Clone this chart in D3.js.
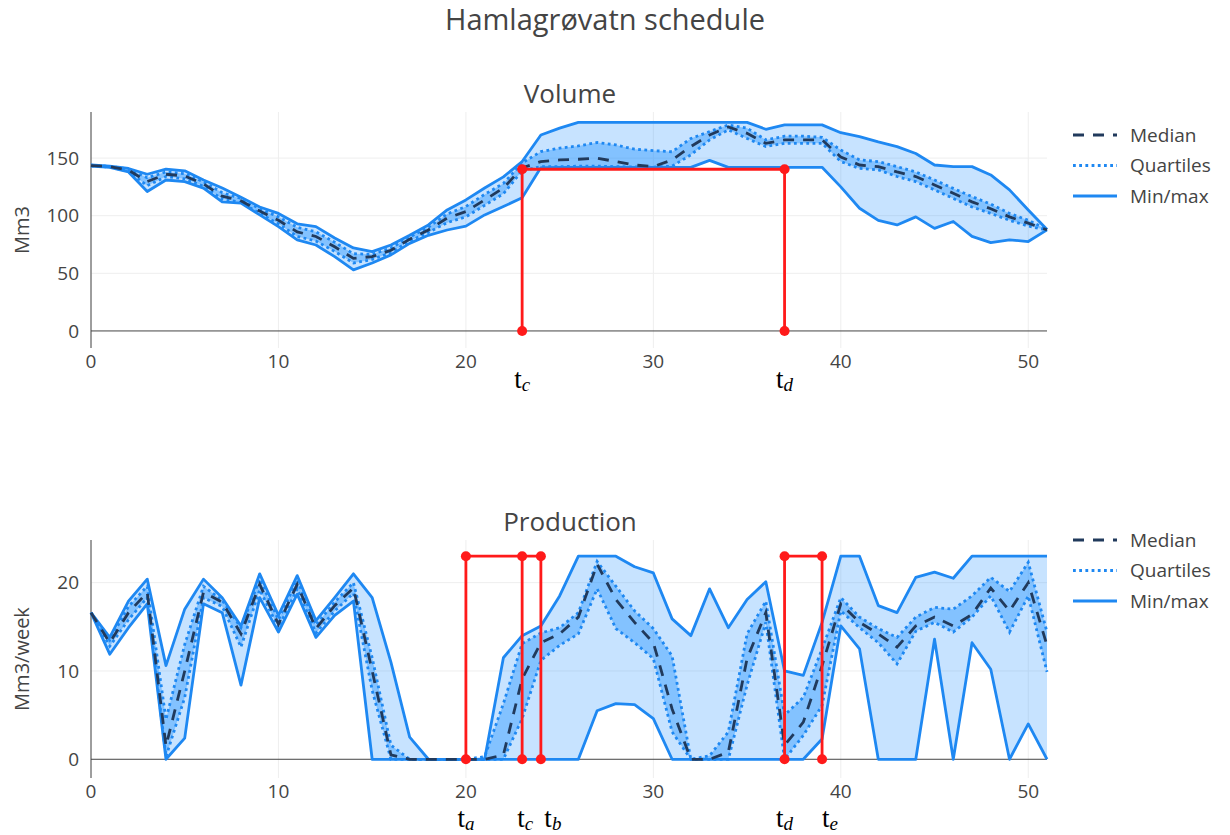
<!DOCTYPE html>
<html>
<head>
<meta charset="utf-8">
<script src="https://cdn.jsdelivr.net/npm/d3@7"></script>
<style>
  html, body { margin: 0; padding: 0; background: #fff; }
  svg { display: block; }
</style>
</head>
<body>
<div id="chart"></div>
<script>
// ---- data ----
const weeks = d3.range(0, 52);

const volMin = [143, 142, 138, 121, 131, 129.6, 124, 112, 111, 100.7, 90.5, 79, 74.6, 64.5, 53, 59, 66, 76, 83, 87.6,
  91, 100.7, 108, 115.5, 141.8, 142, 142, 142, 142, 142, 142, 142, 142, 148, 142, 142, 142, 142, 142, 142,
  125, 106.5, 96, 92, 99, 89, 95, 82, 76.6, 79, 77.6, 87.7];
const volQ1 = [143.2, 142.3, 138.5, 126, 134, 132, 125.5, 114.5, 111.5, 102, 93, 82, 78, 69, 59, 62, 68, 78, 85.5, 94,
  99, 109, 119, 139, 142.6, 142.6, 143, 143, 142.6, 142.3, 142.2, 143, 152.8, 165.8, 174.5, 167, 160, 162.8, 162.8, 162.8,
  147, 141, 139.8, 134, 129.6, 122.4, 115, 107.6, 102, 96, 91, 87.5];
const volMedian = [143.5, 142.6, 139.5, 129.6, 136, 134.5, 127.6, 117, 113, 104, 96, 86, 82, 73, 63, 64.5, 70, 79.6, 87.6, 98,
  103.6, 113.7, 124, 141.5, 147, 148.4, 149, 150, 147, 144, 142.6, 148.4, 160, 170, 177, 171.5, 162.8, 165.8, 165.8, 165.8,
  151, 144, 142.6, 138, 134, 126.7, 119.5, 112, 106, 99, 93.5, 87.7];
const volQ3 = [143.8, 142.8, 140.5, 133, 138, 136.5, 129.5, 120, 115, 106, 99, 90, 86, 77, 67, 66.5, 72, 81.5, 90, 101.5,
  108, 118.5, 128, 145.8, 155.6, 158.6, 160.6, 163.5, 161.4, 157.7, 156.5, 155.5, 167, 173, 178.8, 176, 165.8, 169, 169, 168,
  157, 148.4, 147, 142.6, 138, 131, 123.7, 116.6, 110, 102, 96, 88];
const volMax = [144, 143, 141, 136, 140.5, 139, 131, 124, 116, 107.6, 102, 93, 90.5, 80.7, 72, 68.8, 74.6, 83, 92, 105,
  113.7, 124, 133.7, 147, 170, 176, 181, 181, 181, 181, 181, 181, 181, 181, 181, 181, 175, 178.8, 178.8, 178.8,
  172, 168.7, 164, 160, 154, 144, 142.6, 142.6, 135.4, 122.4, 105, 88];

const prodMin = [16.6, 11.9, 14.9, 17.6, 0, 2.4, 17.6, 16.6, 8.4, 18.3, 14.4, 18.7, 13.8, 16.3, 17.9, 0, 0, 0, 0, 0,
  0, 0, 0, 0, 0, 0, 0, 5.5, 6.3, 6.2, 4.6, 0, 0, 0, 0, 0, 0, 0, 0, 2.3,
  15.1, 12.5, 0, 0, 0, 13.6, 0, 13.2, 10.2, 0, 4.0, 0];
const prodQ1 = [16.6, 12.8, 15.8, 18.3, 0.3, 7, 18.3, 17.3, 12.7, 19.2, 14.9, 19.3, 14.3, 16.8, 18.8, 7.8, 0, 0, 0, 0,
  0, 0, 0, 4.6, 11.2, 12.9, 14.2, 19.3, 14.8, 13.2, 11.4, 3.1, 0, 0, 0, 8.4, 15.5, 0, 2.7, 6.1,
  16.8, 14.9, 13.2, 10.8, 14.5, 15.5, 14.4, 16.1, 18.5, 14.4, 18.5, 9.9];
const prodMedian = [16.6, 13.2, 16.6, 18.9, 1.5, 10, 18.9, 17.8, 14.2, 19.8, 15.3, 19.8, 14.8, 17.4, 19.4, 10.0, 0.5, 0, 0, 0,
  0, 0, 0.5, 9.1, 13.2, 14.2, 16.1, 22.1, 18.1, 15.5, 13.2, 5.7, 0, 0, 0.8, 11.4, 16.6, 1.6, 4.2, 10.6,
  17.6, 15.5, 14.2, 12.7, 15.1, 16.1, 15.1, 16.4, 19.4, 16.8, 20.0, 12.9];
const prodQ3 = [16.6, 13.5, 17.3, 19.6, 4.5, 13, 19.6, 18.0, 14.9, 20.4, 15.8, 20.3, 15.2, 17.8, 20.0, 11.5, 1.6, 0, 0, 0,
  0, 0.3, 6.3, 13.1, 14.3, 14.9, 16.6, 22.4, 19.6, 16.8, 14.8, 11.7, 0, 0.4, 3.1, 14.2, 17.9, 5.0, 7.0, 12.5,
  18.3, 16.1, 14.8, 13.8, 16.1, 17.2, 17.0, 18.5, 20.6, 19.0, 22.3, 14.4];
const prodMax = [16.6, 13.8, 17.9, 20.4, 10.6, 17.0, 20.4, 18.3, 15.1, 21.0, 16.3, 20.8, 15.7, 18.3, 21.0, 18.3, 11.0, 2.5, 0, 0,
  0, 0, 11.5, 14.0, 15.1, 18.5, 23, 23, 23, 21.8, 21.1, 15.9, 14.0, 19.3, 14.9, 18.1, 20.1, 10.0, 9.5, 15.5,
  23, 23, 17.4, 16.6, 20.6, 21.2, 20.5, 23, 23, 23, 23, 23];

// red schedule markers: [weeks, values]
const volMarkWeeks = [23, 23, 37, 37];
const volMarkValues = [0, 140.3, 140.3, 0];
const prodMarkWeeks = [[20, 20, 24, 24], [23, 23], [37, 37, 39, 39]];
const prodMarkValues = [[0, 23, 23, 0], [0, 23], [0, 23, 23, 0]];

const volTimeLabels = ['c', 'd'];
const volTimeWeeks = [23, 37];
const prodTimeLabels = ['a', 'c', 'b', 'd', 'e'];
const prodTimeWeeks = [20, 23, 24, 37, 39];

const xTicks = [0, 10, 20, 30, 40, 50];
const volTicks = [0, 50, 100, 150];
const prodTicks = [0, 10, 20];
const legendNames = ['Median', 'Quartiles', 'Min/max'];

// ---- style ----
const FONT = '"Open Sans", verdana, arial, sans-serif';
const TEXT = '#444';
const BLUE = '#1e88f2';
const DARK = '#213a5c';
const FILL_LIGHT = 'rgba(30,144,255,0.25)';
const FILL_DARK = 'rgba(30,144,255,0.40)';
const RED = '#ff1a1a';

const W = 1230, H = 835;
const svg = d3.select('#chart').append('svg').attr('width', W).attr('height', H)
  .style('font-family', FONT);
svg.append('rect').attr('width', W).attr('height', H).attr('fill', '#fff');

svg.append('text').attr('x', 605).attr('y', 30).attr('text-anchor', 'middle')
  .attr('font-size', 29).attr('fill', TEXT).text('Hamlagrøvatn schedule');

function panel(cfg) {
  const x = d3.scaleLinear().domain([0, 51]).range([91, 1047]);
  const y = d3.scaleLinear().domain(cfg.yDomain).range([cfg.bottom, cfg.top]);
  const g = svg.append('g');

  // grid
  g.selectAll('.vgrid').data(xTicks).join('line')
    .attr('x1', d => x(d)).attr('x2', d => x(d))
    .attr('y1', cfg.top).attr('y2', cfg.bottom)
    .attr('stroke', '#eee').attr('stroke-width', 1);
  g.selectAll('.hgrid').data(cfg.yTicks.filter(d => d !== 0)).join('line')
    .attr('x1', 91).attr('x2', 1047)
    .attr('y1', d => y(d)).attr('y2', d => y(d))
    .attr('stroke', '#eee').attr('stroke-width', 1);
  // zero line + y axis line
  g.append('line').attr('x1', 91).attr('x2', 1047).attr('y1', y(0)).attr('y2', y(0))
    .attr('stroke', '#444').attr('stroke-width', 1);
  g.append('line').attr('x1', 91).attr('x2', 91).attr('y1', cfg.top).attr('y2', cfg.bottom)
    .attr('stroke', '#444').attr('stroke-width', 1);

  // ticks
  g.selectAll('.xt').data(xTicks).join('text')
    .attr('x', d => x(d)).attr('y', cfg.bottom + 20).attr('text-anchor', 'middle')
    .attr('font-size', 19).attr('fill', TEXT).text(d => d);
  g.selectAll('.yt').data(cfg.yTicks).join('text')
    .attr('x', 79).attr('y', d => y(d)).attr('dy', '0.35em').attr('text-anchor', 'end')
    .attr('font-size', 19).attr('fill', TEXT).text(d => d);

  // axis title
  g.append('text')
    .attr('transform', `translate(29,${(cfg.top + cfg.bottom) / 2}) rotate(-90)`)
    .attr('text-anchor', 'middle').attr('font-size', 20).attr('fill', TEXT).text(cfg.yTitle);
  // subplot title
  g.append('text').attr('x', 570).attr('y', cfg.top - 9).attr('text-anchor', 'middle')
    .attr('font-size', 26).attr('fill', TEXT).text(cfg.title);

  const band = (lo, hi) => d3.area().x((d, i) => x(weeks[i])).y0((d, i) => y(lo[i])).y1((d, i) => y(hi[i]))(weeks);
  const line = (vals) => d3.line().x((d, i) => x(weeks[i])).y((d, i) => y(vals[i]))(weeks);

  const s = cfg.series;
  g.append('path').attr('d', band(s.min, s.max)).attr('fill', FILL_LIGHT);
  g.append('path').attr('d', band(s.q1, s.q3)).attr('fill', FILL_DARK);
  [s.min, s.max].forEach(v => g.append('path').attr('d', line(v)).attr('fill', 'none')
    .attr('stroke', BLUE).attr('stroke-width', 2.8).attr('stroke-linejoin', 'round'));
  [s.q1, s.q3].forEach(v => g.append('path').attr('d', line(v)).attr('fill', 'none')
    .attr('stroke', BLUE).attr('stroke-width', 2.8).attr('stroke-dasharray', '2.8,3.4'));
  g.append('path').attr('d', line(s.median)).attr('fill', 'none')
    .attr('stroke', DARK).attr('stroke-width', 2.8).attr('stroke-dasharray', '11,9');

  // red schedule marks
  cfg.marks.forEach(m => {
    const pts = m.w.map((w, i) => [x(w), y(m.v[i])]);
    g.append('path').attr('d', d3.line()(pts)).attr('fill', 'none')
      .attr('stroke', RED).attr('stroke-width', 2.8);
    g.selectAll(null).data(pts).join('circle')
      .attr('cx', d => d[0]).attr('cy', d => d[1]).attr('r', 5).attr('fill', RED);
  });

  // time labels (math style)
  cfg.times.labels.forEach((lab, i) => {
    const nudge = cfg.times.nudge[i] || 0;
    const t = g.append('text').attr('x', x(cfg.times.weeks[i]) + nudge).attr('y', cfg.labelY)
      .attr('text-anchor', 'middle').attr('font-family', '"Liberation Serif", "DejaVu Serif", serif')
      .attr('font-size', 27).attr('fill', '#000');
    t.append('tspan').text('t');
    t.append('tspan').attr('font-style', 'italic').attr('font-size', 19).attr('dy', 3).text(lab);
  });

  // legend
  const lg = g.append('g').attr('transform', `translate(1073,${cfg.legendTop})`);
  legendNames.forEach((name, i) => {
    const yy = i * 30.5;
    const ln = lg.append('line').attr('x1', 0).attr('x2', 44).attr('y1', yy).attr('y2', yy)
      .attr('stroke-width', 2.8);
    if (i === 0) ln.attr('stroke', DARK).attr('stroke-dasharray', '11,9');
    else if (i === 1) ln.attr('stroke', BLUE).attr('stroke-dasharray', '2.8,3.4');
    else ln.attr('stroke', BLUE);
    lg.append('text').attr('x', 57).attr('y', yy).attr('dy', '0.35em')
      .attr('font-size', 19).attr('fill', TEXT).text(name);
  });
}

panel({
  top: 112, bottom: 348, yDomain: [-14.8, 190], yTicks: volTicks, yTitle: 'Mm3', title: 'Volume',
  series: { min: volMin, q1: volQ1, median: volMedian, q3: volQ3, max: volMax },
  marks: [{ w: volMarkWeeks, v: volMarkValues }],
  times: { labels: volTimeLabels, weeks: volTimeWeeks, nudge: [0, 0] },
  labelY: 388, legendTop: 135
});

panel({
  top: 540, bottom: 778, yDomain: [-2.12, 24.83], yTicks: prodTicks, yTitle: 'Mm3/week', title: 'Production',
  series: { min: prodMin, q1: prodQ1, median: prodMedian, q3: prodQ3, max: prodMax },
  marks: prodMarkWeeks.map((w, i) => ({ w, v: prodMarkValues[i] })),
  times: { labels: prodTimeLabels, weeks: prodTimeWeeks, nudge: [0, 3, 12, 0, 8] },
  labelY: 827, legendTop: 540
});
</script>
</body>
</html>
